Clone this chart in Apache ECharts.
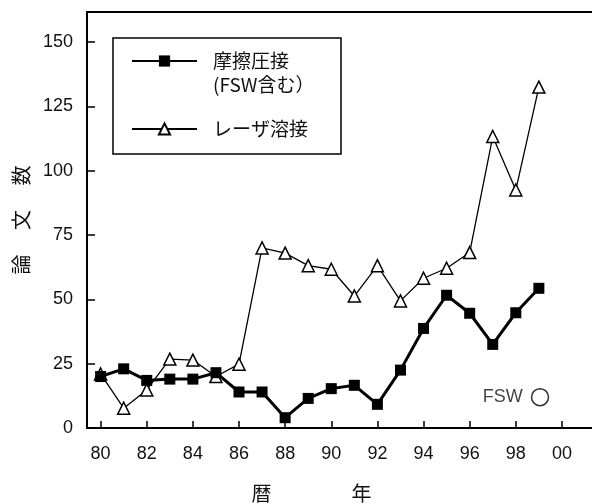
<!DOCTYPE html>
<html><head><meta charset="utf-8">
<script src="https://cdn.jsdelivr.net/npm/echarts@6/dist/echarts.min.js"></script>
<style>html,body{margin:0;padding:0;background:#fff}#c{width:592px;height:504px}</style>
</head><body><div id="c"></div>
<script>
const years = [1980,1981,1982,1983,1984,1985,1986,1987,1988,1989,1990,1991,1992,1993,1994,1995,1996,1997,1998,1999];
const friction = [20,23,18.5,19,19,21.5,14,14,4,11.5,15.3,16.6,9.2,22.5,38.7,51.6,44.6,32.5,44.8,54.3];
const laser = [21,7.7,14.8,26.8,26.4,20,24.8,70,68,63.1,61.7,51.3,63.1,49.4,58.2,62.1,68.2,113.3,92.5,132.5];
const fswNote = [[1999.05, 12]];
const yTicks = [0,25,50,75,100,125,150];
const xTicks = [1980,1982,1984,1986,1988,1990,1992,1994,1996,1998,2000];
const nameFriction = '摩擦圧接';
const nameLaser = 'レーザ溶接';

const FONT = '"Liberation Sans", Arial, "Noto Sans CJK JP", sans-serif';
const CJK = '"Noto Sans CJK JP", sans-serif';
const chart = echarts.init(document.getElementById('c'), null, {renderer:'canvas'});
const zip = (xs, ys) => xs.map((x, i) => [x, ys[i]]);

chart.setOption({
  animation: false,
  backgroundColor: '#fff',
  grid: {left: 87, right: -5, top: 12, bottom: 76, outerBoundsMode: 'none', containLabel: false,
    show: true, borderColor: '#000', borderWidth: 2, backgroundColor: 'transparent'},
  xAxis: {
    type: 'value', min: 1979.41, max: 2001.52,
    name: '暦　　　　年', nameLocation: 'middle', nameGap: 55,
    nameTextStyle: {fontFamily: CJK, fontSize: 20, color: '#111', padding: [0, 61, 0, 0]},
    axisLine: {lineStyle: {color: '#000', width: 2}},
    axisTick: {inside: true, length: 7, customValues: xTicks, lineStyle: {color: '#000', width: 1.5}},
    axisLabel: {customValues: xTicks, margin: 17, fontFamily: FONT, fontSize: 18, color: '#111',
      formatter: v => String(v).slice(2)},
    splitLine: {show: false}
  },
  yAxis: {
    type: 'value', min: 0, max: 161.7,
    name: '論　 文　 数', nameLocation: 'middle', nameGap: 56,
    nameTextStyle: {fontFamily: CJK, fontSize: 20, color: '#111'},
    axisLine: {lineStyle: {color: '#000', width: 2}},
    axisTick: {inside: true, length: 8, customValues: yTicks, lineStyle: {color: '#000', width: 1.5}},
    axisLabel: {customValues: yTicks, margin: 14, fontFamily: FONT, fontSize: 18, color: '#111'},
    splitLine: {show: false}
  },
  legend: {
    orient: 'vertical', left: 131, top: 25, padding: 0, itemGap: 20,
    itemWidth: 65, itemHeight: 14,
    data: [
      {name: nameFriction, textStyle: {padding: [0, 0, 0, 11]}},
      {name: nameLaser, textStyle: {padding: [0, 0, 0, 11]}}
    ],
    formatter: n => n === nameFriction ? ' \n摩擦圧接\n(FSW含む）' : n,
    textStyle: {fontFamily: CJK, fontSize: 19, lineHeight: 24, color: '#111'}
  },
  graphic: [{type: 'rect', shape: {x: 113, y: 38, width: 228, height: 116}, style: {fill: 'none', stroke: '#000', lineWidth: 1.5}, z: 10}],
  series: [
    {name: nameLaser, type: 'line', data: zip(years, laser), symbol: 'triangle', symbolSize: 12,
      lineStyle: {color: '#000', width: 1.3}, itemStyle: {color: '#fff', borderColor: '#000', borderWidth: 1.5}, z: 2},
    {name: nameFriction, type: 'line', data: zip(years, friction), symbol: 'rect', symbolSize: 11,
      lineStyle: {color: '#000', width: 3}, itemStyle: {color: '#000'}, z: 3},
    {name: 'FSW', type: 'scatter', data: fswNote, symbol: 'circle', symbolSize: 17,
      itemStyle: {color: '#fff', borderColor: '#000', borderWidth: 1.5},
      label: {show: true, position: 'left', distance: 8, formatter: 'FSW', fontFamily: FONT, fontSize: 18, color: '#111'}}
  ]
});
</script></body></html>
